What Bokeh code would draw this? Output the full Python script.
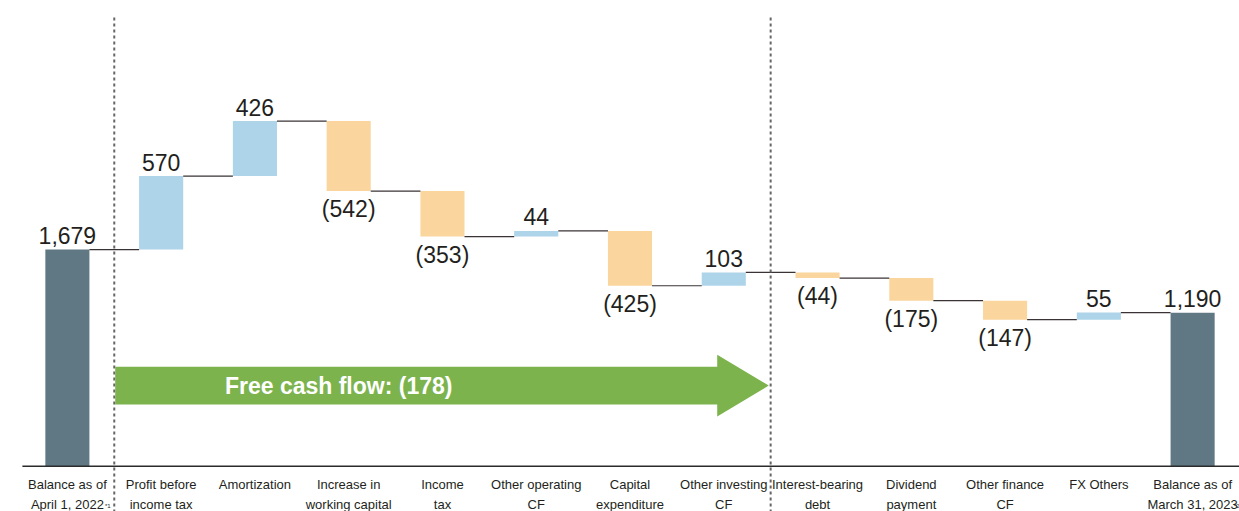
from bokeh.plotting import figure
from bokeh.models import Range1d, ColumnDataSource
from bokeh.core.properties import value
from bokeh.embed import file_html
from bokeh.resources import INLINE

# ---- data ----
line1 = ["Balance as of", "Profit before", "Amortization", "Increase in", "Income",
         "Other operating", "Capital", "Other investing", "Interest-bearing", "Dividend",
         "Other finance", "FX Others", "Balance as of"]
line2 = ["April 1, 2022", "income tax", "", "working capital", "tax",
         "CF", "expenditure", "CF", "debt", "payment",
         "CF", "", "March 31, 2023"]
kinds = ["total", "delta", "delta", "delta", "delta", "delta", "delta", "delta",
         "delta", "delta", "delta", "delta", "total"]
values = [1679, 570, 426, -542, -353, 44, -425, 103, -44, -175, -147, 55, 1190]
value_labels = ["1,679", "570", "426", "(542)", "(353)", "44", "(425)", "103",
                "(44)", "(175)", "(147)", "55", "1,190"]
footnotes = ["*1", "*2"]
fcf_label = "Free cash flow: (178)"

# ---- styles ----
C_TOTAL = "#5f7884"
C_POS = "#add4e8"
C_NEG = "#fad69e"
C_ARROW = "#7db34d"
C_TEXT = "#231f20"
FONT = "Liberation Sans"

# ---- waterfall geometry ----
x = list(range(len(values)))
bottoms, tops, colors, levels = [], [], [], []
running = 0
for k, v in zip(kinds, values):
    if k == "total":
        b, t = 0, v
        running = v
        colors.append(C_TOTAL)
    else:
        b, t = (running, running + v) if v >= 0 else (running + v, running)
        running += v
        colors.append(C_POS if v >= 0 else C_NEG)
    bottoms.append(b)
    tops.append(t)
    levels.append(running)

W = 0.47
p = figure(width=1239, height=511, output_backend="svg", toolbar_location=None,
           x_range=Range1d(-0.5, 12.5), y_range=Range1d(-351, 3610),
           min_border_left=20, min_border_right=0, min_border_top=0, min_border_bottom=0)
p.xaxis.visible = False
p.yaxis.visible = False
p.xgrid.visible = False
p.ygrid.visible = False
p.outline_line_color = None

bar_src = ColumnDataSource(dict(x=x, b=bottoms, t=tops, c=colors))
p.vbar(x="x", bottom="b", top="t", width=W, fill_color="c", line_color=None, source=bar_src)

# connectors
cx0 = [i + W / 2 for i in x[:-1]]
cx1 = [i + 1 - W / 2 for i in x[:-1]]
p.segment(x0=cx0, y0=levels[:-1], x1=cx1, y1=levels[:-1], line_color="#3a3335", line_width=1.2)

# baseline
p.segment(x0=[-0.48], y0=[0], x1=[12.5], y1=[0], line_color="#2b2b2b", line_width=1.5)

# dotted separators
p.segment(x0=[0.5, 7.5], y0=[3478, 3478], x1=[0.5, 7.5], y1=[-400, -400],
          line_color="#666666", line_width=2, line_dash="3 3")

# value labels
up_x, up_y, up_t, dn_x, dn_y, dn_t = [], [], [], [], [], []
for i, (k, v) in enumerate(zip(kinds, values)):
    if k == "total" or v >= 0:
        up_x.append(i); up_y.append(tops[i]); up_t.append(value_labels[i])
    else:
        dn_x.append(i); dn_y.append(bottoms[i]); dn_t.append(value_labels[i])
p.text(x=up_x, y=up_y, text=up_t, text_align="center", text_baseline="alphabetic",
       y_offset=-14, text_font=value(FONT), text_font_size="23px", text_color=C_TEXT)
p.text(x=dn_x, y=dn_y, text=dn_t, text_align="center", text_baseline="alphabetic",
       y_offset=18, text_font=value(FONT), text_font_size="23px", text_color=C_TEXT)

# category labels
p.text(x=x, y=[0] * len(x), text=line1, text_align="center", text_baseline="middle",
       y_offset=18, text_font=value(FONT), text_font_size="13px", text_color=C_TEXT)
p.text(x=x, y=[0] * len(x), text=line2, text_align="center", text_baseline="middle",
       y_offset=38, text_font=value(FONT), text_font_size="13px", text_color=C_TEXT)
p.text(x=[0.40, 12.44], y=[0, 0], text=footnotes, text_align="left", text_baseline="middle",
       y_offset=40, text_font=value(FONT), text_font_size="6px", text_color=C_TEXT)

# free cash flow arrow
ax0, ahead, atip = 0.51, 6.93, 7.48
ayc, abody, ahh = 625, 146, 240
p.patch(x=[ax0, ahead, ahead, atip, ahead, ahead, ax0],
        y=[ayc + abody, ayc + abody, ayc + ahh, ayc, ayc - ahh, ayc - abody, ayc - abody],
        fill_color=C_ARROW, line_color=None)
p.text(x=[1.68], y=[ayc], text=[fcf_label], text_align="left", text_baseline="middle",
       text_font=value(FONT), text_font_style="bold", text_font_size="23px",
       text_color="white")

open("out.html", "w").write(file_html(p, INLINE))
